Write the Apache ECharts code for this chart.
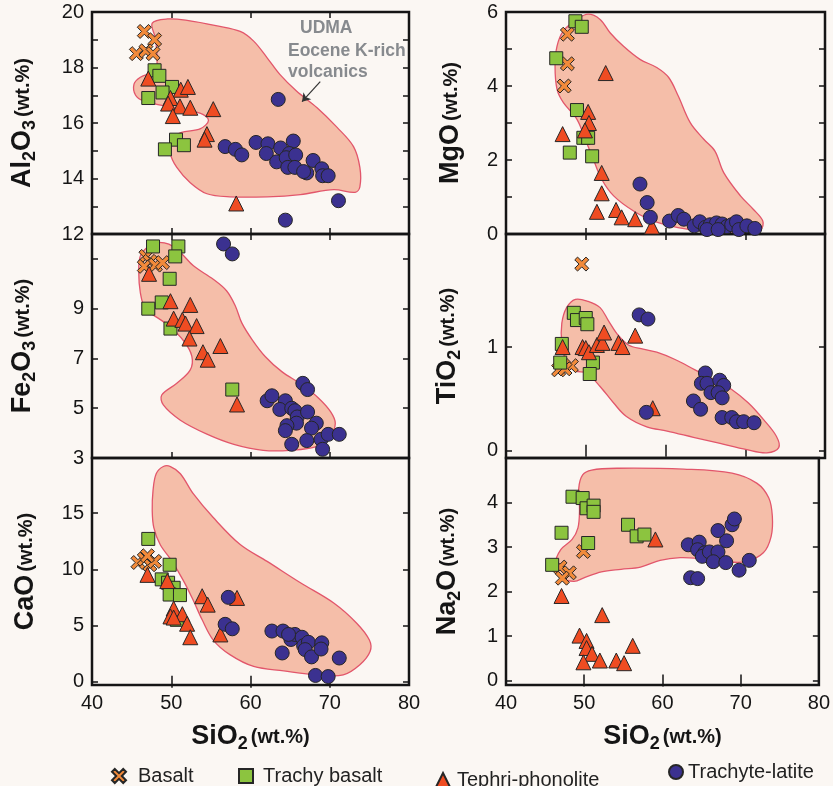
<!DOCTYPE html>
<html>
<head>
<meta charset="utf-8">
<script src="https://cdn.jsdelivr.net/npm/echarts@6/dist/echarts.min.js"></script>
<style>
  html, body { margin: 0; padding: 0; background: #fbf7f3; }
  #chart { width: 833px; height: 786px; }
</style>
</head>
<body>
<div id="chart"></div>
<script>
const FONT = '"Liberation Sans", Arial, Helvetica, sans-serif';
const INK = '#151515';

const rockTypes = ['Basalt', 'Trachy basalt', 'Tephri-phonolite', 'Trachyte-latite'];
const sio2Labels = [40, 50, 60, 70, 80];
const sio2Ticks = [50, 60, 70];

// [SiO2, oxide] pairs
const basaltAl2O3 = [[46.6,19.3],[47.9,19.0],[45.6,18.5],[46.8,18.6],[47.7,18.5]];
const trachyBasaltAl2O3 = [[47.9,17.9],[48.5,17.7],[50.1,17.3],[48.9,17.1],[47.1,16.9],[50.6,15.4],[49.2,15.05],[51.6,15.2]];
const tephriAl2O3 = [[47.1,17.6],[51.2,17.2],[52.1,17.3],[49.9,16.9],[49.6,16.7],[51.1,16.6],[52.4,16.55],[50.2,16.25],[55.3,16.5],[54.5,15.6],[54.2,15.4],[58.2,13.1]];
const trachyteAl2O3 = [[63.5,16.85],[56.8,15.15],[58.1,15.05],[58.9,14.85],[60.7,15.3],[62.2,15.25],[62.0,14.9],[63.8,15.1],[65.4,15.35],[64.9,14.9],[63.3,14.6],[64.5,14.75],[64.7,14.4],[65.7,14.85],[65.6,14.4],[67.1,14.2],[67.9,14.65],[66.7,14.25],[69.0,14.35],[69.1,14.1],[69.8,14.1],[71.1,13.2],[64.4,12.5]];

const basaltMgO = [[47.7,5.4],[47.7,4.6],[47.3,4.0]];
const trachyBasaltMgO = [[48.7,5.75],[49.5,5.6],[46.3,4.75],[48.9,3.35],[49.7,2.6],[50.3,2.6],[48.0,2.2],[50.8,2.1]];
const tephriMgO = [[52.5,4.35],[50.3,3.3],[50.4,3.0],[49.9,2.8],[47.1,2.7],[52.0,1.65],[52.0,1.1],[51.4,0.6],[53.8,0.65],[54.5,0.45],[56.2,0.4],[58.3,0.2]];
const trachyteMgO = [[56.8,1.35],[57.7,0.85],[58.1,0.45],[60.5,0.35],[61.6,0.5],[62.3,0.4],[63.6,0.22],[64.3,0.33],[65.0,0.18],[65.6,0.25],[66.4,0.3],[67.1,0.27],[67.7,0.2],[68.3,0.25],[68.9,0.33],[69.2,0.12],[70.2,0.22],[71.2,0.15],[65.2,0.12],[66.6,0.12]];

const basaltFe2O3 = [[46.8,11.1],[47.3,10.9],[46.6,10.7],[48.0,10.75],[48.9,10.85]];
const trachyBasaltFe2O3 = [[47.7,11.5],[50.9,11.5],[50.5,11.1],[49.8,10.2],[48.8,9.25],[47.1,9.0],[49.9,8.2],[57.7,5.75]];
const tephriFe2O3 = [[47.2,10.4],[49.9,9.3],[52.4,9.15],[50.3,8.6],[51.4,8.55],[51.8,8.4],[53.2,8.3],[52.3,7.8],[54.0,7.25],[54.6,6.95],[56.2,7.5],[58.3,5.15]];
const trachyteFe2O3 = [[56.6,11.6],[57.7,11.2],[62.1,5.3],[62.7,5.5],[64.4,5.3],[63.7,4.95],[65.2,5.0],[65.6,4.9],[65.9,4.65],[65.8,4.4],[64.6,4.3],[64.4,4.1],[66.6,6.0],[67.2,5.75],[67.2,4.85],[68.3,4.4],[67.7,4.2],[67.1,3.7],[65.2,3.55],[68.9,3.75],[69.1,3.35],[69.8,3.95],[71.2,3.95]];

const basaltTiO2 = [[49.5,1.8],[46.6,0.78],[48.2,0.82],[47.4,0.79]];
const trachyBasaltTiO2 = [[48.5,1.33],[48.9,1.26],[50.0,1.28],[50.2,1.22],[47.0,1.03],[46.8,0.85],[50.9,0.85],[50.5,0.74]];
const tephriTiO2 = [[47.1,1.0],[49.6,1.0],[50.0,0.99],[50.4,0.95],[51.4,1.02],[52.1,1.04],[52.3,1.14],[54.1,1.04],[54.6,1.0],[56.2,1.11],[58.4,0.41]];
const trachyteTiO2 = [[56.7,1.31],[57.8,1.27],[57.6,0.37],[63.5,0.48],[64.4,0.4],[65.0,0.75],[64.5,0.65],[65.2,0.65],[65.7,0.56],[66.8,0.68],[67.3,0.63],[66.6,0.56],[67.1,0.51],[67.1,0.32],[68.3,0.32],[68.9,0.28],[69.8,0.28],[71.1,0.27]];

const basaltCaO = [[45.8,10.6],[46.6,10.9],[47.3,10.4],[47.9,10.7],[47.0,11.2]];
const trachyBasaltCaO = [[47.1,12.7],[49.8,10.4],[48.8,9.1],[49.6,8.8],[50.3,8.35],[49.8,7.75],[51.1,7.7],[50.7,5.5]];
const tephriCaO = [[47.0,9.5],[49.5,8.95],[53.9,7.6],[54.6,6.85],[58.3,7.45],[50.3,6.5],[49.9,5.8],[51.4,6.0],[50.3,5.7],[52.0,5.15],[52.4,3.95],[56.2,4.2]];
const trachyteCaO = [[57.2,7.5],[56.8,5.1],[57.7,4.7],[62.7,4.5],[64.1,4.5],[64.0,2.55],[65.1,3.75],[65.6,4.2],[66.5,3.95],[66.7,3.2],[67.3,3.5],[66.9,2.85],[67.7,2.2],[69.0,3.45],[68.9,2.9],[71.2,2.1],[68.2,0.55],[69.8,0.45],[64.8,4.2]];

const basaltNa2O = [[49.9,2.9],[46.9,2.55],[48.1,2.42],[47.2,2.3]];
const trachyBasaltNa2O = [[48.5,4.13],[49.8,4.1],[50.3,3.87],[51.2,3.93],[51.2,3.79],[47.1,3.32],[50.5,3.09],[45.9,2.6],[55.6,3.5],[56.7,3.24],[57.7,3.28]];
const tephriNa2O = [[59.1,3.17],[47.1,1.9],[52.3,1.47],[49.4,1.01],[50.3,0.89],[50.3,0.73],[51.0,0.6],[52.0,0.45],[49.9,0.41],[54.1,0.45],[55.1,0.39],[56.2,0.78]];
const trachyteNa2O = [[63.3,3.05],[64.7,3.11],[64.5,2.94],[65.4,2.87],[65.1,2.79],[66.0,2.89],[67.1,2.89],[66.5,2.67],[68.1,2.65],[63.6,2.31],[64.5,2.29],[68.2,3.14],[67.1,3.37],[68.9,3.5],[69.2,3.63],[69.8,2.48],[71.1,2.7]];

// UDMA Eocene K-rich volcanics fields
const fieldAl2O3 = [[47.6,19.6],[49.5,19.75],[52.0,19.7],[55.8,19.5],[58.7,19.3],[60.4,18.95],[62.1,18.35],[63.7,17.75],[65.8,17.15],[68.4,16.55],[70.9,15.85],[73.0,15.15],[73.8,14.4],[73.8,13.7],[73.2,13.5],[70.5,13.6],[66.3,13.42],[62.1,13.34],[57.4,13.34],[54.5,13.45],[52.4,13.85],[50.7,14.4],[49.9,14.9],[50.1,15.4],[51.2,15.65],[53.7,15.8],[54.7,16.1],[53.7,16.35],[50.3,16.55],[46.5,16.8],[45.5,17.0],[45.3,17.4],[46.1,17.65],[48.0,17.9],[48.2,18.35],[48.0,19.05]];
const fieldMgO = [[50.3,5.94],[51.8,5.8],[53.05,5.44],[54.7,5.08],[56.8,4.72],[58.9,4.5],[60.4,4.23],[61.6,3.73],[63.1,3.01],[64.8,2.56],[66.2,2.24],[67.3,1.66],[69.4,1.03],[71.0,0.67],[72.2,0.35],[71.9,0.13],[66.9,0.05],[62.7,0.13],[58.5,0.35],[56.0,0.62],[53.5,1.03],[52.0,1.48],[50.95,2.02],[50.1,2.47],[48.9,3.1],[47.2,3.55],[46.4,3.91],[46.15,4.54],[46.4,5.08],[47.2,5.49],[48.9,5.8]];
const fieldFe2O3 = [[48.2,11.66],[49.7,11.59],[51.15,11.26],[52.8,10.72],[55.3,10.18],[57.0,9.71],[58.1,9.1],[58.9,8.43],[60.2,7.76],[61.85,7.08],[63.95,6.47],[66.5,5.94],[68.6,5.4],[70.1,4.86],[70.7,4.39],[70.0,3.85],[68.4,3.47],[65.0,3.31],[61.6,3.31],[57.9,3.55],[54.5,3.96],[51.15,4.52],[49.0,5.13],[48.8,5.53],[50.7,6.0],[52.4,6.54],[52.6,7.08],[51.6,7.69],[49.5,8.36],[47.6,8.77],[46.7,8.97],[46.1,9.64],[45.9,10.45],[46.1,11.12],[47.2,11.53]];
const fieldTiO2 = [[48.7,1.46],[50.3,1.44],[51.8,1.38],[52.8,1.26],[53.9,1.13],[55.35,1.02],[57.2,0.98],[58.9,0.95],[61.2,0.88],[63.7,0.78],[66.2,0.68],[68.3,0.59],[70.4,0.46],[72.3,0.3],[73.9,0.14],[74.2,0.03],[72.7,-0.02],[70.2,0.01],[66.85,0.07],[63.5,0.13],[60.2,0.19],[57.65,0.23],[55.1,0.33],[53.5,0.46],[51.8,0.62],[50.1,0.75],[48.7,0.77],[47.6,0.85],[47.0,1.04],[47.0,1.23],[47.6,1.38]];
const fieldCaO = [[49.0,19.14],[48.1,18.5],[47.7,17.0],[47.6,15.2],[47.8,13.7],[48.6,12.2],[50.1,10.7],[51.6,8.9],[52.8,7.2],[53.9,5.5],[55.3,3.7],[57.4,2.4],[60.4,1.35],[64.2,0.96],[68.4,0.6],[71.7,0.6],[73.8,1.5],[75.1,2.7],[75.0,3.7],[73.4,5.2],[70.5,7.0],[66.3,8.8],[62.1,10.7],[58.7,12.2],[55.3,14.6],[52.8,16.7],[51.15,18.5],[49.9,19.14]];
const fieldNa2O = [[50.95,4.73],[54.3,4.77],[62.7,4.75],[68.9,4.66],[72.1,4.43],[73.6,4.1],[74.05,3.69],[73.9,3.24],[72.9,2.87],[70.6,2.67],[67.7,2.68],[64.8,2.74],[62.25,2.76],[59.7,2.7],[57.2,2.55],[54.7,2.5],[52.2,2.44],[50.1,2.32],[48.7,2.23],[47.0,2.32],[46.3,2.61],[47.0,2.94],[48.45,3.17],[49.2,3.43],[49.4,3.84],[49.3,4.32],[49.8,4.62]];

// y tick labels / tick marks per panel
const al2o3Labels = [12, 14, 16, 18, 20], al2o3Ticks = [13, 14, 15, 16, 17, 18, 19];
const mgoLabels = [0, 2, 4, 6], mgoTicks = [1, 2, 3, 4, 5];
const fe2o3Labels = [3, 5, 7, 9], fe2o3Ticks = [5, 7, 9, 11];
const tio2Labels = [0, 1], tio2Ticks = [0, 1];
const caoLabels = [0, 5, 10, 15], caoTicks = [0, 5, 10, 15];
const na2oLabels = [0, 1, 2, 3, 4], na2oTicks = [0, 1, 2, 3, 4];

const panels = [
  { name: '{b|Al}{s|2}{b|O}{s|3}{w|(wt.%)}', min: 12, max: 20, labels: al2o3Labels, ticks: al2o3Ticks, field: fieldAl2O3,
    rocks: [basaltAl2O3, trachyBasaltAl2O3, tephriAl2O3, trachyteAl2O3], grid: { left: 92, top: 12, width: 317, height: 222 } },
  { name: '{b|MgO}{w|(wt.%)}', min: 0, max: 6, labels: mgoLabels, ticks: mgoTicks, field: fieldMgO,
    rocks: [basaltMgO, trachyBasaltMgO, tephriMgO, trachyteMgO], grid: { left: 506, top: 12, width: 319, height: 222 } },
  { name: '{b|Fe}{s|2}{b|O}{s|3}{w|(wt.%)}', min: 3, max: 12, labels: fe2o3Labels, ticks: fe2o3Ticks, field: fieldFe2O3,
    rocks: [basaltFe2O3, trachyBasaltFe2O3, tephriFe2O3, trachyteFe2O3], grid: { left: 92, top: 234, width: 317, height: 224 } },
  { name: '{b|TiO}{s|2}{w|(wt.%)}', min: -0.07, max: 2.09, labels: tio2Labels, ticks: tio2Ticks, field: fieldTiO2,
    rocks: [basaltTiO2, trachyBasaltTiO2, tephriTiO2, trachyteTiO2], grid: { left: 506, top: 234, width: 319, height: 224 } },
  { name: '{b|CaO}{w|(wt.%)}', min: -0.3, max: 19.9, labels: caoLabels, ticks: caoTicks, field: fieldCaO,
    rocks: [basaltCaO, trachyBasaltCaO, tephriCaO, trachyteCaO], grid: { left: 92, top: 458, width: 317, height: 227 } },
  { name: '{b|Na}{s|2}{b|O}{w|(wt.%)}', min: -0.1, max: 5, labels: na2oLabels, ticks: na2oTicks, field: fieldNa2O,
    rocks: [basaltNa2O, trachyBasaltNa2O, tephriNa2O, trachyteNa2O], grid: { left: 506, top: 458, width: 319, height: 227 } }
];

const crossPath = 'path://M2,0L5,3L8,0L10,2L7,5L10,8L8,10L5,7L2,10L0,8L3,5L0,2Z';
const rockStyles = [
  { symbol: crossPath, size: 14, color: '#f28a3a' },
  { symbol: 'rect', size: 13, color: '#8cc43f' },
  { symbol: 'triangle', size: 15, color: '#ef4c22' },
  { symbol: 'circle', size: 14, color: '#3b3190' }
];

const nameRich = {
  b: { fontSize: 27, fontWeight: 'bold', fontFamily: FONT, color: INK },
  s: { fontSize: 18, fontWeight: 'bold', fontFamily: FONT, color: INK, padding: [15, 0, 0, 0] },
  w: { fontSize: 20, fontWeight: 'bold', fontFamily: FONT, color: INK, padding: [2, 0, 0, 3] }
};

const tickStyle = (values) => ({
  show: true, inside: true, length: 6, customValues: values,
  lineStyle: { color: INK, width: 1.5 }
});

const grids = [], xAxes = [], yAxes = [], series = [];

panels.forEach((p, i) => {
  const bottomRow = i >= 4;
  grids.push(Object.assign({ show: true, borderColor: INK, borderWidth: 2.5, backgroundColor: 'transparent' }, p.grid));

  xAxes[i] = {
    gridIndex: i, type: 'value', min: 40, max: 80, position: 'bottom',
    axisLine: { show: false }, splitLine: { show: false },
    axisTick: tickStyle(sio2Ticks),
    axisLabel: { show: bottomRow, customValues: sio2Labels, fontSize: 20, color: INK, fontFamily: FONT, margin: 8 },
    name: bottomRow ? '{b|SiO}{s|2}{w|(wt.%)}' : '', nameLocation: 'middle', nameGap: 35,
    nameTextStyle: { rich: nameRich }
  };
  xAxes[i + 6] = {
    gridIndex: i, type: 'value', min: 40, max: 80, position: 'top',
    axisLine: { show: false }, splitLine: { show: false },
    axisTick: tickStyle(sio2Ticks), axisLabel: { show: false }
  };
  yAxes[i] = {
    gridIndex: i, type: 'value', min: p.min, max: p.max, position: 'left',
    axisLine: { show: false }, splitLine: { show: false },
    axisTick: tickStyle(p.ticks),
    axisLabel: { customValues: p.labels, fontSize: 20, color: INK, fontFamily: FONT, margin: 8 },
    name: p.name, nameLocation: 'middle', nameGap: i % 2 === 0 ? 53 : 42,
    nameTextStyle: { rich: nameRich }
  };
  yAxes[i + 6] = {
    gridIndex: i, type: 'value', min: p.min, max: p.max, position: 'right',
    axisLine: { show: false }, splitLine: { show: false },
    axisTick: tickStyle(p.ticks), axisLabel: { show: false }
  };

  const field = p.field;
  series.push({
    type: 'custom', coordinateSystem: 'cartesian2d', xAxisIndex: i, yAxisIndex: i,
    silent: true, z: 1, data: field,
    renderItem: (params, api) => {
      if (params.dataIndex !== 0) return null;
      return {
        type: 'polygon',
        shape: { points: field.map(pt => api.coord(pt)), smooth: 0.35 },
        style: { fill: '#f5bea9', stroke: '#e2566b', lineWidth: 1.3 }
      };
    }
  });

  p.rocks.forEach((pts, k) => {
    const st = rockStyles[k];
    const s = {
      name: rockTypes[k], type: 'scatter', xAxisIndex: i, yAxisIndex: i, z: 3,
      symbol: st.symbol, symbolSize: st.size, data: pts,
      itemStyle: { color: st.color, borderColor: '#262626', borderWidth: 1, opacity: 1 }
    };
    if (i === 0 && k === 3) {
      s.markLine = {
        silent: true, symbol: ['none', 'arrow'], symbolSize: 8,
        label: { show: false },
        lineStyle: { color: '#333', width: 1.2, type: 'solid' },
        data: [[{ coord: [68.8, 17.49] }, { coord: [66.5, 16.77] }]]
      };
    }
    series.push(s);
  });
});

const legendAt = (name, left, top, pad) => ({
  data: [name], left: left, top: top, padding: 0, selectedMode: false,
  itemWidth: 14, itemHeight: 14,
  textStyle: { fontSize: 20, color: '#222', fontFamily: FONT, padding: [0, 0, 0, pad] }
});

const noteStyle = { fontSize: 17.5, fontWeight: 'bold', fontFamily: FONT, fill: '#878a8e', verticalAlign: 'middle', align: 'left' };

const chart = echarts.init(document.getElementById('chart'), null, { renderer: 'canvas' });
chart.setOption({
  backgroundColor: '#fbf7f3',
  animation: false,
  grid: grids,
  xAxis: xAxes,
  yAxis: yAxes,
  legend: [
    legendAt('Basalt', 111, 766, 7),
    legendAt('Trachy basalt', 238, 766, 5),
    legendAt('Tephri-phonolite', 435, 770, 2),
    legendAt('Trachyte-latite', 668, 762, 0)
  ],
  graphic: [
    { type: 'text', x: 300, y: 28, z: 10, style: Object.assign({ text: 'UDMA' }, noteStyle) },
    { type: 'text', x: 288, y: 51, z: 10, style: Object.assign({ text: 'Eocene K-rich' }, noteStyle) },
    { type: 'text', x: 288, y: 72, z: 10, style: Object.assign({ text: 'volcanics' }, noteStyle) }
  ],
  series: series
});
</script>
</body>
</html>
